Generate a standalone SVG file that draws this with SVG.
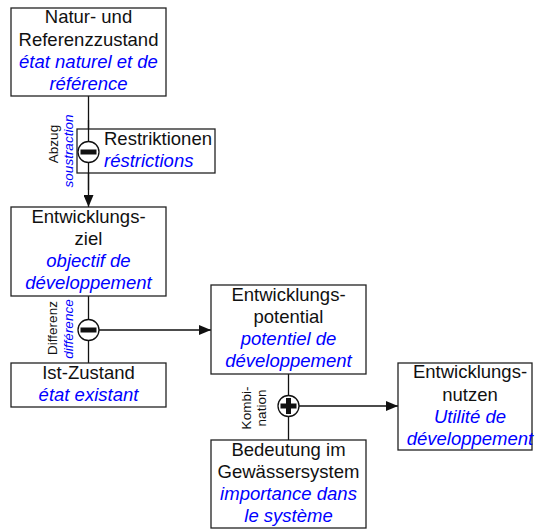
<svg xmlns="http://www.w3.org/2000/svg" width="535" height="529" viewBox="0 0 535 529">
<defs>
<style>
.box{fill:#fff;stroke:#222;stroke-width:1.3}
.de{font-family:"Liberation Sans",Arial,sans-serif;font-size:18.5px;fill:#111;text-anchor:middle}
.fr{font-family:"Liberation Sans",Arial,sans-serif;font-size:18.5px;font-style:italic;fill:#0000ff;text-anchor:middle}
.sde{font-family:"Liberation Sans",Arial,sans-serif;font-size:13.5px;fill:#111;text-anchor:middle}
.sfr{font-family:"Liberation Sans",Arial,sans-serif;font-size:13.5px;font-style:italic;fill:#0000ff;text-anchor:middle}
.ln{stroke:#111;stroke-width:1.3;fill:none}
.op{fill:#fff;stroke:#111;stroke-width:1.3}
</style>
<marker id="ah" viewBox="0 0 12 10" refX="12" refY="5" markerWidth="12" markerHeight="10" markerUnits="userSpaceOnUse" orient="auto">
<path d="M0,0 L12,5 L0,10 Z" fill="#111"/>
</marker>
</defs>
<g id="connectors">
<line class="ln" x1="88.5" y1="96" x2="88.5" y2="207" marker-end="url(#ah)"/>
<line class="ln" x1="88.5" y1="296" x2="88.5" y2="363"/>
<line class="ln" x1="88.5" y1="330" x2="211" y2="330" marker-end="url(#ah)"/>
<line class="ln" x1="288.5" y1="374" x2="288.5" y2="440"/>
<line class="ln" x1="288.5" y1="406" x2="398" y2="406" marker-end="url(#ah)"/>
</g>
<g id="n1">
<rect class="box" x="11" y="8" width="155" height="88"/>
<text class="de" x="88.5" y="23">Natur- und</text>
<text class="de" x="88.5" y="45.5">Referenzzustand</text>
<text class="fr" x="88.5" y="68">état naturel et de</text>
<text class="fr" x="88.5" y="90">référence</text>
</g>
<g id="n2">
<rect class="box" x="77" y="129" width="138" height="44"/>
<text class="de" x="104" y="145" style="text-anchor:start">Restriktionen</text>
<text class="fr" x="104" y="167" style="text-anchor:start">réstrictions</text>
</g>
<g id="op1">
<line class="ln" x1="88.5" y1="120" x2="88.5" y2="190"/>
<circle class="op" cx="88.5" cy="152" r="10.5"/>
<rect x="80.5" y="149.5" width="16" height="5" fill="#111"/>
<text class="sde" transform="translate(57.5,144) rotate(-90)">Abzug</text>
<text class="sfr" transform="translate(72.5,151) rotate(-90)">soustraction</text>
</g>
<g id="n3">
<rect class="box" x="11" y="207" width="155" height="89"/>
<text class="de" x="88.5" y="223">Entwicklungs-</text>
<text class="de" x="88.5" y="245">ziel</text>
<text class="fr" x="88.5" y="267">objectif de</text>
<text class="fr" x="88.5" y="289">développement</text>
</g>
<g id="op2">
<circle class="op" cx="88.5" cy="330" r="10.5"/>
<rect x="80.5" y="327.5" width="16" height="5" fill="#111"/>
<text class="sde" transform="translate(56.5,328) rotate(-90)">Differenz</text>
<text class="sfr" transform="translate(72.5,329) rotate(-90)">différence</text>
</g>
<g id="n4">
<rect class="box" x="11" y="363" width="155" height="44"/>
<text class="de" x="88.5" y="379">Ist-Zustand</text>
<text class="fr" x="88.5" y="401">état existant</text>
</g>
<g id="n5">
<rect class="box" x="211" y="285" width="155" height="89"/>
<text class="de" x="288.5" y="301">Entwicklungs-</text>
<text class="de" x="288.5" y="323">potential</text>
<text class="fr" x="288.5" y="345">potentiel de</text>
<text class="fr" x="288.5" y="367">développement</text>
</g>
<g id="op3">
<circle class="op" cx="288.5" cy="406" r="10.5"/>
<rect x="280.5" y="403.5" width="16" height="5" fill="#111"/>
<rect x="286" y="398" width="5" height="16" fill="#111"/>
<text class="sde" transform="translate(251,408) rotate(-90)">Kombi-</text>
<text class="sde" transform="translate(265.5,408) rotate(-90)">nation</text>
</g>
<g id="n6">
<rect class="box" x="211" y="440" width="155" height="88"/>
<text class="de" x="288.5" y="456">Bedeutung im</text>
<text class="de" x="288.5" y="478">Gewässersystem</text>
<text class="fr" x="288.5" y="500">importance dans</text>
<text class="fr" x="288.5" y="522">le système</text>
</g>
<g id="n7">
<rect class="box" x="398" y="363" width="134" height="87"/>
<text class="de" x="470" y="378">Entwicklungs-</text>
<text class="de" x="470" y="401">nutzen</text>
<text class="fr" x="470" y="423">Utilité de</text>
<text class="fr" x="470" y="445">développement</text>
</g>
</svg>
